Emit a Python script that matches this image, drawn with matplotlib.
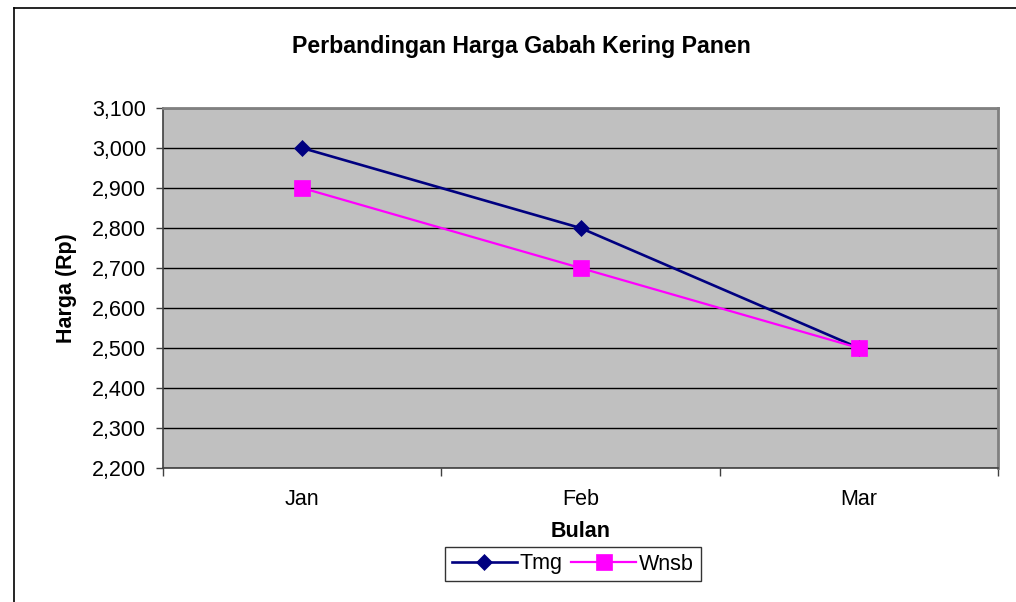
import matplotlib
matplotlib.use("Agg")
import matplotlib.pyplot as plt
from matplotlib.lines import Line2D
from matplotlib.ticker import FuncFormatter, FixedLocator

# data
months = ["Jan", "Feb", "Mar"]
tmg = [3000, 2800, 2500]
wnsb = [2900, 2700, 2500]
y_ticks = [2200, 2300, 2400, 2500, 2600, 2700, 2800, 2900, 3000, 3100]

plt.rcParams['font.family'] = ['Liberation Sans', 'DejaVu Sans']

W, H = 1016, 602
fig = plt.figure(figsize=(W / 100, H / 100), dpi=100)
ax = fig.add_axes([163 / W, 1 - 468 / H, (998 - 163) / W, (468 - 108) / H])
ax.set_facecolor('#C0C0C0')

x = list(range(len(months)))
ax.plot(x, tmg, color='#000080', lw=1.9, marker='D', ms=8.6,
        mfc='#000080', mec='#000080', mew=0.5, label='Tmg', zorder=3)
ax.plot(x, wnsb, color='#FF00FF', lw=1.6, marker='s', ms=11,
        mfc='#FF00FF', mec='#FF00FF', mew=0.5, label='Wnsb', zorder=3)

ax.set_xlim(-0.5, len(months) - 0.5)
ax.set_ylim(y_ticks[0], y_ticks[-1])
ax.set_yticks(y_ticks)
ax.yaxis.set_major_formatter(FuncFormatter(lambda v, p: f"{int(v):,}"))
ax.grid(axis='y', color='black', lw=1.0, zorder=1)
ax.set_axisbelow(True)

ax.set_xticks(x)
ax.set_xticklabels(months)
ax.xaxis.set_minor_locator(FixedLocator([i - 0.5 for i in range(len(months) + 1)]))
ax.tick_params(axis='x', which='major', length=0, pad=15, labelsize=15.5)
ax.tick_params(axis='x', which='minor', length=6, width=1, color='#404040')
ax.tick_params(axis='y', length=5, width=1, color='#404040', labelsize=15.5, pad=7)

for s in ['top', 'right']:
    ax.spines[s].set_color('#808080')
    ax.spines[s].set_linewidth(2)
for s in ['left', 'bottom']:
    ax.spines[s].set_color('#404040')
    ax.spines[s].set_linewidth(1.2)

ax.set_xlabel('Bulan', fontsize=15.5, fontweight='bold', labelpad=8)
ax.set_ylabel('Harga (Rp)', fontsize=15.5, fontweight='bold', labelpad=11)
fig.text(521 / W, 1 - 47 / H, 'Perbandingan Harga Gabah Kering Panen',
         ha='center', va='center', fontsize=16.7, fontweight='bold')

leg = ax.legend(loc='center', bbox_to_anchor=(573 / W, 1 - 564 / H),
                bbox_transform=fig.transFigure, ncol=2, frameon=True,
                fancybox=False, edgecolor='black', fontsize=15.5,
                handlelength=3.0, columnspacing=0.4, handletextpad=0.15,
                borderpad=0.3)
leg.get_frame().set_linewidth(1.0)

# outer chart frame (cut off at right and bottom)
fig.add_artist(Line2D([13.5 / W, 13.5 / W], [0, 1 - 7.5 / H], color='black', lw=1.2))
fig.add_artist(Line2D([13.5 / W, 1], [1 - 7.5 / H, 1 - 7.5 / H], color='black', lw=1.2))

fig.savefig('out.png', dpi=100)
